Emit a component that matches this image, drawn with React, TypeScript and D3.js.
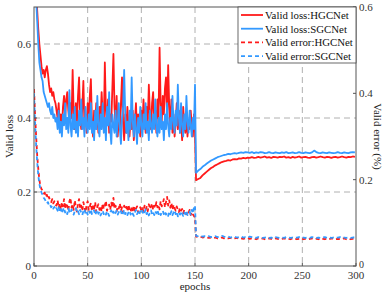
import React from 'react';
import * as d3 from 'd3';

// epochs: 0..150 every epoch, then 151..299 every 2 epochs
const epochsA = d3.range(0, 151);
const epochsB = d3.range(151, 300, 2);

const lossHgcA = [
  0.95, 0.85, 0.76, 0.69, 0.64, 0.6, 0.57, 0.54, 0.52, 0.53, 0.51, 0.53, 0.54, 0.52, 0.49, 0.47, 0.48, 0.46, 0.47, 0.45, 0.44,
  0.42, 0.40, 0.44, 0.38, 0.41, 0.37, 0.43, 0.46, 0.40, 0.45, 0.47, 0.42, 0.39, 0.44, 0.40, 0.53, 0.41, 0.37, 0.44, 0.39,
  0.46, 0.51, 0.40, 0.37, 0.43, 0.50, 0.38, 0.41, 0.36, 0.44, 0.40, 0.46, 0.505, 0.39, 0.35, 0.42, 0.38, 0.44, 0.40, 0.36,
  0.43, 0.39, 0.47, 0.41, 0.37, 0.55, 0.42, 0.38, 0.45, 0.36, 0.41, 0.39, 0.48, 0.573, 0.43, 0.38, 0.46, 0.35, 0.40, 0.37,
  0.44, 0.51, 0.39, 0.34, 0.41, 0.36, 0.43, 0.38, 0.35, 0.40, 0.37, 0.42, 0.34, 0.39, 0.44, 0.36, 0.41, 0.38, 0.35, 0.42,
  0.37, 0.45, 0.40, 0.36, 0.43, 0.39, 0.49, 0.41, 0.37, 0.44, 0.47, 0.38, 0.42, 0.36, 0.45, 0.40, 0.59, 0.44, 0.39, 0.46,
  0.41, 0.48, 0.51, 0.40, 0.543, 0.43, 0.38, 0.45, 0.36, 0.41, 0.35, 0.39, 0.44, 0.37, 0.42, 0.36, 0.40, 0.34, 0.43, 0.38,
  0.36, 0.41, 0.35, 0.39, 0.37, 0.42, 0.38, 0.35, 0.41, 0.36,
];
const lossSgcA = [
  0.9, 0.8, 0.72, 0.66, 0.6, 0.55, 0.53, 0.51, 0.5, 0.47, 0.46, 0.45, 0.44, 0.43, 0.44, 0.42, 0.41, 0.43, 0.4, 0.41, 0.39,
  0.40, 0.37, 0.42, 0.36, 0.39, 0.35, 0.41, 0.38, 0.44, 0.37, 0.40, 0.36, 0.475, 0.38, 0.35, 0.41, 0.37, 0.43, 0.36, 0.39,
  0.35, 0.42, 0.38, 0.45, 0.37, 0.40, 0.35, 0.43, 0.38, 0.36, 0.41, 0.37, 0.44, 0.36, 0.39, 0.34, 0.42, 0.37, 0.46, 0.38,
  0.35, 0.41, 0.37, 0.44, 0.36, 0.40, 0.34, 0.43, 0.38, 0.47, 0.37, 0.33, 0.41, 0.38, 0.36, 0.42, 0.35, 0.39, 0.44, 0.37,
  0.33, 0.40, 0.43, 0.53, 0.41, 0.36, 0.39, 0.34, 0.42, 0.37, 0.51, 0.39, 0.35, 0.41, 0.37, 0.33, 0.40, 0.36, 0.43, 0.38,
  0.35, 0.41, 0.37, 0.44, 0.36, 0.39, 0.34, 0.42, 0.38, 0.36, 0.41, 0.37, 0.45, 0.38, 0.35, 0.40, 0.36, 0.43, 0.37, 0.39,
  0.34, 0.41, 0.37, 0.44, 0.38, 0.35, 0.40, 0.37, 0.46, 0.39, 0.36, 0.42, 0.38, 0.49, 0.40, 0.36, 0.44, 0.38, 0.35, 0.41,
  0.37, 0.46, 0.39, 0.36, 0.42, 0.38, 0.35, 0.40, 0.37, 0.49,
];
const lossHgcB = [
  0.232, 0.235, 0.238, 0.245, 0.25, 0.255, 0.26, 0.265, 0.268, 0.272, 0.275, 0.278, 0.281, 0.283, 0.284, 0.286, 0.285,
  0.288, 0.289, 0.288, 0.291, 0.29, 0.292, 0.291, 0.293, 0.292, 0.294, 0.292, 0.293, 0.295, 0.293, 0.294, 0.296, 0.293,
  0.294, 0.292, 0.295, 0.294, 0.293, 0.295, 0.294, 0.296, 0.293, 0.294, 0.292, 0.295, 0.293, 0.294, 0.296, 0.293, 0.294,
  0.295, 0.293, 0.292, 0.294, 0.295, 0.293, 0.294, 0.296, 0.294, 0.293, 0.295, 0.294, 0.292, 0.294, 0.295, 0.293, 0.294,
  0.296, 0.294, 0.293, 0.295, 0.294, 0.296, 0.295,
];
const lossSgcB = [
  0.252, 0.258, 0.262, 0.268, 0.272, 0.277, 0.281, 0.285, 0.288, 0.291, 0.294, 0.296, 0.298, 0.3, 0.301, 0.303, 0.302,
  0.304, 0.305, 0.304, 0.306, 0.307, 0.306, 0.308, 0.307, 0.306, 0.308, 0.305, 0.307, 0.306, 0.308, 0.307, 0.305, 0.306,
  0.308, 0.306, 0.305, 0.307, 0.306, 0.305, 0.307, 0.306, 0.308, 0.305, 0.306, 0.307, 0.305, 0.306, 0.308, 0.306, 0.305,
  0.307, 0.306, 0.305, 0.307, 0.312, 0.308, 0.306, 0.305, 0.307, 0.306, 0.305, 0.307, 0.306, 0.305, 0.306, 0.308, 0.306,
  0.305, 0.307, 0.306, 0.305, 0.307, 0.308, 0.307,
];

const errHgcA = [
  0.41, 0.35, 0.3, 0.255, 0.225, 0.2, 0.185, 0.178, 0.175, 0.168, 0.17, 0.16, 0.165, 0.155, 0.16, 0.15, 0.148, 0.155, 0.145,
  0.15, 0.142,
  0.14, 0.152, 0.135, 0.145, 0.13, 0.148, 0.138, 0.155, 0.132, 0.146, 0.14, 0.128, 0.15, 0.158, 0.135, 0.143, 0.13, 0.152,
  0.137, 0.126, 0.145, 0.155, 0.133, 0.14, 0.128, 0.148, 0.136, 0.124, 0.142, 0.15, 0.13, 0.138, 0.146, 0.127, 0.14, 0.133,
  0.148, 0.125, 0.137, 0.143, 0.13, 0.138, 0.126, 0.145, 0.132, 0.14, 0.151, 0.128, 0.136, 0.142, 0.13, 0.147, 0.135, 0.158,
  0.132, 0.14, 0.127, 0.138, 0.133, 0.145, 0.128, 0.136, 0.124, 0.14, 0.131, 0.137, 0.127, 0.142, 0.13, 0.125, 0.136, 0.129,
  0.14, 0.126, 0.133, 0.138, 0.124, 0.131, 0.136, 0.128, 0.134, 0.126, 0.14, 0.13, 0.137, 0.127, 0.143, 0.132, 0.138, 0.145,
  0.13, 0.14, 0.134, 0.148, 0.136, 0.142, 0.131, 0.15, 0.138, 0.145, 0.155, 0.136, 0.148, 0.16, 0.14, 0.152, 0.135, 0.146,
  0.13, 0.142, 0.134, 0.128, 0.138, 0.13, 0.125, 0.135, 0.128, 0.132, 0.122, 0.13, 0.126, 0.12, 0.128, 0.124, 0.13, 0.118,
  0.125, 0.12, 0.116, 0.112,
];
const errSgcA = [
  0.4, 0.33, 0.28, 0.24, 0.21, 0.19, 0.178, 0.17, 0.165, 0.158, 0.155, 0.15, 0.145, 0.148, 0.14, 0.142, 0.136, 0.14, 0.133,
  0.137, 0.13,
  0.134, 0.128, 0.136, 0.125, 0.132, 0.122, 0.13, 0.135, 0.124, 0.128, 0.12, 0.133, 0.126, 0.122, 0.131, 0.125, 0.119,
  0.128, 0.134, 0.123, 0.127, 0.12, 0.13, 0.124, 0.118, 0.127, 0.132, 0.121, 0.126, 0.119, 0.128, 0.123, 0.131, 0.12, 0.125,
  0.129, 0.118, 0.124, 0.13, 0.121, 0.126, 0.117, 0.123, 0.128, 0.12, 0.125, 0.119, 0.127, 0.122, 0.116, 0.124, 0.129, 0.12,
  0.126, 0.118, 0.123, 0.128, 0.119, 0.125, 0.121, 0.127, 0.117, 0.123, 0.13, 0.12, 0.125, 0.118, 0.124, 0.128, 0.119,
  0.126, 0.121, 0.116, 0.124, 0.13, 0.12, 0.125, 0.118, 0.127, 0.122, 0.128, 0.119, 0.124, 0.131, 0.12, 0.126, 0.117, 0.123,
  0.129, 0.12, 0.125, 0.118, 0.127, 0.122, 0.13, 0.12, 0.125, 0.118, 0.124, 0.128, 0.12, 0.126, 0.119, 0.123, 0.116, 0.125,
  0.12, 0.127, 0.118, 0.124, 0.129, 0.12, 0.126, 0.115, 0.123, 0.119, 0.127, 0.121, 0.116, 0.124, 0.12, 0.128, 0.118, 0.123,
  0.126, 0.119, 0.13, 0.122, 0.135, 0.14,
];
const errHgcB = [
  0.068, 0.067, 0.068, 0.066, 0.067, 0.066, 0.065, 0.066, 0.065, 0.066, 0.064, 0.065, 0.066, 0.064, 0.065, 0.064, 0.065,
  0.063, 0.064, 0.065, 0.063, 0.064, 0.063, 0.064, 0.065, 0.063, 0.064, 0.063, 0.062, 0.064, 0.063, 0.064, 0.062, 0.063,
  0.064, 0.063, 0.062, 0.064, 0.063, 0.062, 0.063, 0.064, 0.062, 0.063, 0.062, 0.064, 0.063, 0.062, 0.063, 0.064, 0.062,
  0.063, 0.062, 0.063, 0.064, 0.062, 0.063, 0.062, 0.064, 0.063, 0.062, 0.063, 0.062, 0.064, 0.063, 0.062, 0.063, 0.062,
  0.063, 0.064, 0.062, 0.063, 0.062, 0.063, 0.064,
];
const errSgcB = [
  0.07, 0.069, 0.07, 0.068, 0.069, 0.068, 0.069, 0.067, 0.068, 0.069, 0.067, 0.068, 0.07, 0.068, 0.067, 0.068, 0.066,
  0.067, 0.068, 0.066, 0.067, 0.068, 0.066, 0.067, 0.066, 0.068, 0.067, 0.066, 0.065, 0.067, 0.066, 0.065, 0.066, 0.067,
  0.065, 0.066, 0.065, 0.067, 0.066, 0.065, 0.066, 0.065, 0.067, 0.066, 0.065, 0.066, 0.065, 0.066, 0.067, 0.065, 0.066,
  0.065, 0.066, 0.065, 0.067, 0.066, 0.065, 0.066, 0.065, 0.066, 0.067, 0.065, 0.066, 0.065, 0.066, 0.065, 0.066, 0.067,
  0.065, 0.066, 0.065, 0.066, 0.065, 0.066, 0.066,
];

const xTicks = [0, 50, 100, 150, 200, 250, 300];
const leftTicks = [0, 0.2, 0.4, 0.6];
const rightTicks = [0, 0.2, 0.4, 0.6];
const legendLabels = ['Valid loss:HGCNet', 'Valid loss:SGCNet', 'Valid error:HGCNet', 'Valid error:SGCNet'];

const RED = '#ff1a1a';
const BLUE = '#3399ff';
const FONT = '"Liberation Serif", "Times New Roman", serif';

const left = 34, right = 356, top = 7, bottom = 266;

export default function App() {
  const x = d3.scaleLinear().domain([0, 300]).range([left, right]);
  const yL = d3.scaleLinear().domain([0, 0.7]).range([bottom, top]);
  const yR = d3.scaleLinear().domain([0, 0.6]).range([bottom, top]);

  const epochs = epochsA.concat(epochsB);
  const mk = (a: number[], b: number[]) => a.concat(b).map((v, i) => [epochs[i], v] as [number, number]);
  const lineL = d3.line<[number, number]>().x((d) => x(d[0])).y((d) => yL(d[1]));
  const lineR = d3.line<[number, number]>().x((d) => x(d[0])).y((d) => yR(d[1]));

  const series = [
    { d: lineL(mk(lossHgcA, lossHgcB)), color: RED, dash: null },
    { d: lineL(mk(lossSgcA, lossSgcB)), color: BLUE, dash: null },
    { d: lineR(mk(errHgcA, errHgcB)), color: RED, dash: '4,3' },
    { d: lineR(mk(errSgcA, errSgcB)), color: BLUE, dash: '4,3' },
  ];

  return (
    <svg width={390} height={297} style={{ position: 'absolute', left: 0, top: 0, background: '#fff' }}
      fontFamily={FONT}>
      <defs>
        <clipPath id="plot">
          <rect x={left} y={top} width={right - left} height={bottom - top} />
        </clipPath>
      </defs>
      {/* grid */}
      {xTicks.slice(1, -1).map((t) => (
        <line key={'gx' + t} x1={x(t)} x2={x(t)} y1={top} y2={bottom} stroke="#b0b0b0" strokeDasharray="6,4" />
      ))}
      {leftTicks.slice(1).map((t) => (
        <line key={'gy' + t} x1={left} x2={right} y1={yL(t)} y2={yL(t)} stroke="#b0b0b0" strokeDasharray="6,4" />
      ))}
      <g clipPath="url(#plot)">
        {series.map((s, i) => (
          <path key={i} d={s.d || ''} fill="none" stroke={s.color} strokeWidth={1.8}
            strokeDasharray={s.dash || undefined} strokeLinejoin="round" />
        ))}
      </g>
      {/* frame */}
      <rect x={left} y={top} width={right - left} height={bottom - top} fill="none" stroke="#555" strokeWidth={1} />
      {/* ticks */}
      {xTicks.map((t) => (
        <g key={'xt' + t}>
          <line x1={x(t)} x2={x(t)} y1={bottom} y2={bottom - 3} stroke="#555" />
          <text x={x(t)} y={279} fontSize={11} textAnchor="middle" fill="#333">{t}</text>
        </g>
      ))}
      {leftTicks.map((t) => (
        <g key={'lt' + t}>
          <line x1={left} x2={left + 3} y1={yL(t)} y2={yL(t)} stroke="#555" />
          <text x={31} y={yL(t) + 4} fontSize={11} textAnchor="end" fill="#333">{t === 0 ? '0' : t.toFixed(1)}</text>
        </g>
      ))}
      {rightTicks.map((t) => (
        <g key={'rt' + t}>
          <line x1={right} x2={right - 3} y1={yR(t)} y2={yR(t)} stroke="#555" />
          <text x={359} y={t === 0 ? yR(t) + 1.5 : yR(t) + 4} fontSize={t === 0 ? 10 : 11} textAnchor="start"
            fill="#333">{t === 0 ? '0' : t.toFixed(1)}</text>
        </g>
      ))}
      {/* axis labels */}
      <text x={195} y={290} fontSize={11} textAnchor="middle" fill="#222">epochs</text>
      <text transform={`translate(13,${(top + bottom) / 2}) rotate(-90)`} fontSize={11} textAnchor="middle" fill="#222">Valid loss</text>
      <text transform={`translate(374,${(top + bottom) / 2}) rotate(90)`} fontSize={11} textAnchor="middle" fill="#222">Valid error (%)</text>
      {/* legend */}
      <rect x={238} y={top} width={right - 238} height={56} fill="#fff" stroke="#444" strokeWidth={0.8} />
      {legendLabels.map((lab, i) => {
        const ly = 15 + i * 13.7;
        const s = series[i];
        return (
          <g key={lab}>
            <line x1={241} x2={263} y1={ly} y2={ly} stroke={s.color} strokeWidth={1.8}
              strokeDasharray={s.dash || undefined} />
            <text x={265} y={ly + 4} fontSize={10.8} fill="#111">{lab}</text>
          </g>
        );
      })}
    </svg>
  );
}
